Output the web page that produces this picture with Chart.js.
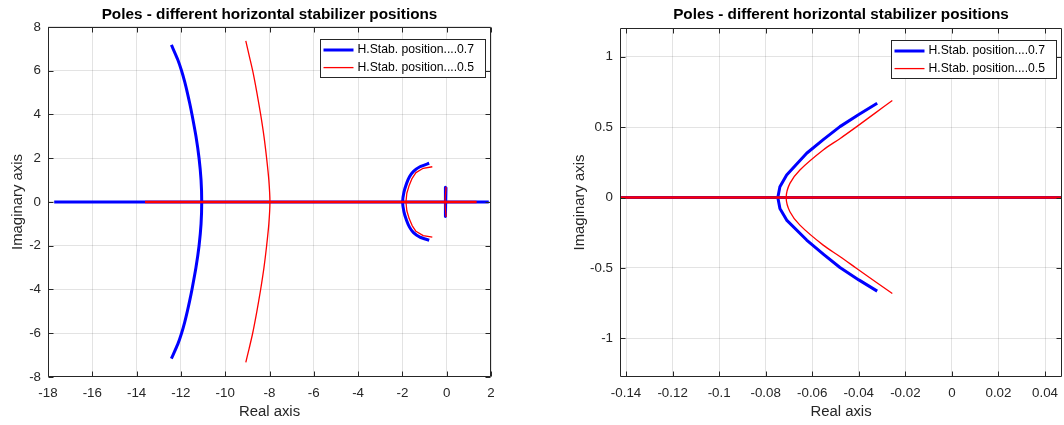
<!DOCTYPE html>
<html>
<head>
<meta charset="utf-8">
<title>Poles - different horizontal stabilizer positions</title>
<script src="https://cdn.jsdelivr.net/npm/chart.js@4.4.1/dist/chart.umd.min.js"></script>
<style>
  html, body { margin: 0; padding: 0; background: #ffffff; }
  #wrap { position: relative; width: 1064px; height: 425px; overflow: hidden; }
  canvas { position: absolute; top: 0; }
  #full { left: 0; }
  #zoom { left: 532px; }
</style>
</head>
<body>
<div id="wrap">
  <canvas id="full" width="532" height="425"></canvas>
  <canvas id="zoom" width="532" height="425"></canvas>
</div>
<script>
// ---- text ----
const chartTitle = 'Poles - different horizontal stabilizer positions';
const xTitle = 'Real axis';
const yTitle = 'Imaginary axis';
const seriesLabels = ['H.Stab. position....0.7', 'H.Stab. position....0.5'];

// ---- tick values ----
const fullXTicks = [-18, -16, -14, -12, -10, -8, -6, -4, -2, 0, 2];
const fullYTicks = [-8, -6, -4, -2, 0, 2, 4, 6, 8];
const zoomXTicks = [-0.14, -0.12, -0.1, -0.08, -0.06, -0.04, -0.02, 0, 0.02, 0.04];
const zoomYTicks = [-1, -0.5, 0, 0.5, 1];

// ---- axis limits ----
const fullXRange = [-18, 2];
const fullYRange = [-8, 8];
const zoomXRange = [-0.1426, 0.0473];
const zoomYRange = [-1.275, 1.205];

// ---- pole loci, stabilizer position 0.7 ----
const realAxis07Re = [-17.72, 1.9];
const realAxis07Im = [0, 0];
const outer07Re = [-12.43, -12.14, -11.97, -11.83, -11.71, -11.60, -11.50, -11.32, -11.18, -11.09, -11.06, -11.09, -11.18, -11.32, -11.50, -11.60, -11.71, -11.83, -11.97, -12.14, -12.43];
const outer07Im = [7.18, 6.5, 6.0, 5.5, 5.0, 4.5, 4.0, 3.0, 2.0, 1.0, 0, -1.0, -2.0, -3.0, -4.0, -4.5, -5.0, -5.5, -6.0, -6.5, -7.16];
const mid07Re = [-0.79, -1.21, -1.51, -1.68, -1.81, -1.93, -1.99, -1.93, -1.81, -1.68, -1.51, -1.21, -0.79];
const mid07Im = [1.77, 1.61, 1.39, 1.15, 0.85, 0.45, 0, -0.45, -0.85, -1.15, -1.39, -1.61, -1.75];
const slow07Re = [-0.0321, -0.0400, -0.0481, -0.0550, -0.0624, -0.0710, -0.0739, -0.0748, -0.0739, -0.0710, -0.0624, -0.0550, -0.0481, -0.0400, -0.0321];
const slow07Im = [0.670, 0.590, 0.504, 0.415, 0.315, 0.160, 0.077, 0, -0.077, -0.160, -0.302, -0.405, -0.497, -0.585, -0.665];

// ---- pole loci, stabilizer position 0.5 ----
const realAxis05Re = [-13.62, 1.35];
const realAxis05Im = [0, 0];
const outer05Re = [-9.07, -8.92, -8.76, -8.57, -8.40, -8.25, -8.13, -8.03, -7.98, -8.03, -8.13, -8.25, -8.40, -8.57, -8.76, -8.92, -9.07];
const outer05Im = [7.36, 6.7, 6.0, 5.0, 4.0, 3.0, 2.0, 1.0, 0, -1.0, -2.0, -3.0, -4.0, -5.0, -6.0, -6.7, -7.33];
const mid05Re = [-0.65, -1.06, -1.39, -1.56, -1.69, -1.80, -1.84, -1.80, -1.69, -1.56, -1.39, -1.06, -0.65];
const mid05Im = [1.61, 1.54, 1.34, 1.08, 0.77, 0.40, 0, -0.40, -0.77, -1.08, -1.34, -1.54, -1.61];
const slow05Re = [-0.0256, -0.0330, -0.0409, -0.0480, -0.0553, -0.0653, -0.0696, -0.0712, -0.0696, -0.0653, -0.0553, -0.0480, -0.0409, -0.0330, -0.0256];
const slow05Im = [0.689, 0.600, 0.504, 0.420, 0.338, 0.196, 0.101, 0, -0.101, -0.196, -0.338, -0.420, -0.504, -0.597, -0.682];

// ---- styling ----
const FONT = '"Liberation Sans", Arial, Helvetica, sans-serif';
const INK = '#262626';
const GRID = 'rgba(38,38,38,0.13)';
const BLUE = '#0000ff';
const RED = '#ff0000';

function branch(re, im, color, width, label, legendEntry, tension) {
  return {
    label: label,
    legendEntry: legendEntry,
    data: re.map((x, i) => ({ x: x, y: im[i] })),
    showLine: true,
    borderColor: color,
    backgroundColor: color,
    borderWidth: width,
    legendWidth: color === BLUE ? 3 : 1.3,
    pointRadius: 0,
    pointHoverRadius: 0,
    tension: tension || 0,
    borderJoinStyle: 'round'
  };
}

// Earlier entries are painted last, so the 0.5 loci sit above the 0.7 loci.
function buildDatasets() {
  return [
    branch(realAxis05Re, realAxis05Im, RED, 2.5, seriesLabels[1], 0),
    branch(outer05Re, outer05Im, RED, 1.3, seriesLabels[1], 2, 0.3),
    branch(mid05Re, mid05Im, RED, 1.3, seriesLabels[1], 0),
    branch(slow05Re, slow05Im, RED, 1.3, seriesLabels[1], 0, 0.3),
    branch(realAxis07Re, realAxis07Im, BLUE, 3, seriesLabels[0], 1),
    branch(outer07Re, outer07Im, BLUE, 3, seriesLabels[0], 0, 0.25),
    branch(mid07Re, mid07Im, BLUE, 3, seriesLabels[0], 0, 0.2),
    branch(slow07Re, slow07Im, BLUE, 3, seriesLabels[0], 0)
  ];
}

// Box frame with inward ticks on all four sides, plus a boxed legend in the top-right corner.
const axesBox = {
  id: 'axesBox',
  afterDatasetsDraw(chart) {
    const { ctx, chartArea: a } = chart;
    const xs = chart.scales.x, ys = chart.scales.y;
    const L = Math.round(a.left) + 0.5, R = Math.round(a.right) - 0.5;
    const T = Math.round(a.top) + 0.5, B = Math.round(a.bottom) - 0.5;
    ctx.save();
    ctx.strokeStyle = INK;
    ctx.lineWidth = 1;
    ctx.beginPath();
    xs.ticks.forEach(t => {
      const p = Math.round(xs.getPixelForValue(t.value)) + 0.5;
      ctx.moveTo(p, T); ctx.lineTo(p, T + 5);
      ctx.moveTo(p, B); ctx.lineTo(p, B - 5);
    });
    ys.ticks.forEach(t => {
      const p = Math.round(ys.getPixelForValue(t.value)) + 0.5;
      ctx.moveTo(L, p); ctx.lineTo(L + 5, p);
      ctx.moveTo(R, p); ctx.lineTo(R - 5, p);
    });
    ctx.rect(L, T, R - L, B - T);
    ctx.stroke();

    // legend
    const entries = chart.data.datasets.filter(d => d.legendEntry > 0)
      .sort((p, q) => p.legendEntry - q.legendEntry);
    ctx.font = '12.2px ' + FONT;
    const tw = Math.max.apply(null, entries.map(e => ctx.measureText(e.label).width));
    const w = Math.round(37 + tw + 11), h = 38;
    const x0 = Math.round(a.right) - 6 - w + 0.5;
    const y0 = Math.round(a.top) + 12.5;
    ctx.fillStyle = '#ffffff';
    ctx.fillRect(x0, y0, w, h);
    ctx.strokeStyle = INK;
    ctx.lineWidth = 1;
    ctx.strokeRect(x0, y0, w, h);
    entries.forEach((e, i) => {
      const cy = y0 + 10.5 + i * 17.6;
      ctx.strokeStyle = e.borderColor;
      ctx.lineWidth = e.legendWidth;
      ctx.beginPath();
      ctx.moveTo(x0 + 3, cy);
      ctx.lineTo(x0 + 33, cy);
      ctx.stroke();
      ctx.fillStyle = '#000000';
      ctx.textAlign = 'left';
      ctx.textBaseline = 'middle';
      ctx.fillText(e.label, x0 + 37, cy);
    });
    ctx.restore();
  }
};

function zeroPadding(s) {
  s.paddingLeft = 0; s.paddingRight = 0; s.paddingTop = 0; s.paddingBottom = 0;
}

function makeChart(id, cfg) {
  return new Chart(document.getElementById(id), {
    type: 'scatter',
    data: { datasets: buildDatasets() },
    plugins: [axesBox],
    options: {
      responsive: false,
      animation: false,
      devicePixelRatio: 1,
      events: [],
      layout: { padding: { left: 0, right: cfg.padRight, top: 0, bottom: 0 } },
      plugins: {
        legend: { display: false },
        tooltip: { enabled: false },
        title: {
          display: true,
          text: chartTitle,
          fullSize: false,
          color: '#000000',
          font: { family: FONT, size: 15.3, weight: 'bold' },
          padding: { top: 5.3, bottom: cfg.titleBottom }
        }
      },
      scales: {
        x: {
          type: 'linear',
          min: cfg.xRange[0],
          max: cfg.xRange[1],
          afterBuildTicks: s => { s.ticks = cfg.xTicks.map(v => ({ value: v })); },
          afterFit: s => { s.height = 48; zeroPadding(s); },
          grid: { color: GRID, lineWidth: 1, drawTicks: false },
          border: { display: false },
          ticks: {
            autoSkip: false, maxRotation: 0, padding: 8, color: INK,
            font: { family: FONT, size: 13.33 },
            callback: v => String(v)
          },
          title: {
            display: true, text: xTitle, color: INK,
            font: { family: FONT, size: 14.9 },
            padding: { top: 0, bottom: 4.4 }
          }
        },
        y: {
          type: 'linear',
          min: cfg.yRange[0],
          max: cfg.yRange[1],
          afterBuildTicks: s => { s.ticks = cfg.yTicks.map(v => ({ value: v })); },
          afterFit: s => { s.width = cfg.yWidth; zeroPadding(s); },
          grid: { color: GRID, lineWidth: 1, drawTicks: false },
          border: { display: false },
          ticks: {
            autoSkip: false, padding: 7, color: INK,
            font: { family: FONT, size: 13.33 },
            callback: v => String(v)
          },
          title: {
            display: true, text: yTitle, color: INK,
            font: { family: FONT, size: 14.9 },
            padding: { top: cfg.yTitlePad, bottom: 0 }
          }
        }
      }
    }
  });
}

// whole-plane view
makeChart('full', {
  xRange: fullXRange, yRange: fullYRange,
  xTicks: fullXTicks, yTicks: fullYTicks,
  padRight: 41, yWidth: 48, titleBottom: 3.3, yTitlePad: 8.6
});

// close-up of the slow poles near the origin
makeChart('zoom', {
  xRange: zoomXRange, yRange: zoomYRange,
  xTicks: zoomXTicks, yTicks: zoomYTicks,
  padRight: 2, yWidth: 88, titleBottom: 4.3, yTitlePad: 39.1
});
</script>
</body>
</html>
